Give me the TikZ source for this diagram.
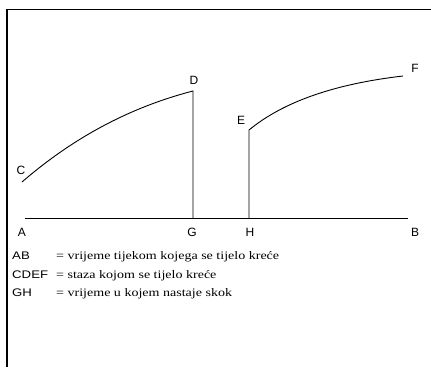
\documentclass[tikz,border=0pt]{standalone}
\usepackage{fontspec}
\setmainfont{Liberation Serif}[FakeStretch=1.22]
\newfontfamily\labelfont{Liberation Sans}
\newfontfamily\keyfont{Liberation Sans}[FakeStretch=1.2]
\begin{document}
\begin{tikzpicture}[x=1pt, y=-1pt,
    pt/.style={font=\labelfont\fontsize{12}{12}\selectfont, inner sep=0pt},
    legkey/.style={font=\keyfont\fontsize{11}{11}\selectfont, anchor=base west, inner sep=0pt},
    legtxt/.style={font=\fontsize{11.5}{11.5}\selectfont, anchor=base west, inner sep=0pt}]
    \useasboundingbox (0,0) rectangle (431,367);

    % okvir
    \draw[line width=1.6pt] (7,367) -- (7,9.5) -- (431,9.5);

    % tocke
    \coordinate (A) at (25,218);
    \coordinate (B) at (408,218);
    \coordinate (C) at (22,182);
    \coordinate (D) at (193,91);
    \coordinate (E) at (249,130);
    \coordinate (F) at (403,76);
    \coordinate (G) at (193,218);
    \coordinate (H) at (249,218);

    % os vremena i staza
    \draw[line width=0.9pt] (A) -- (B);
    \draw[line width=0.9pt] (C) .. controls (74,137) and (131,107) .. (D) -- (G);
    \draw[line width=0.9pt] (H) -- (E) .. controls (283,102) and (334,84) .. (F);

    % oznake
    \node[pt] (lA) at (22,232) {A};
    \node[pt] (lB) at (415,232) {B};
    \node[pt] (lC) at (21,170) {C};
    \node[pt] (lD) at (194,80) {D};
    \node[pt] (lE) at (241,120) {E};
    \node[pt] (lF) at (415,68) {F};
    \node[pt] (lG) at (192,232) {G};
    \node[pt] (lH) at (250,232) {H};

    % legenda
    \node[legkey] (kAB) at (12,259) {AB};
    \node[legtxt] (tAB) at (56,259) {= vrijeme tijekom kojega se tijelo kreće};
    \node[legkey] (kCDEF) at (12,278) {CDEF};
    \node[legtxt] (tCDEF) at (56,278) {= staza kojom se tijelo kreće};
    \node[legkey] (kGH) at (12,296) {GH};
    \node[legtxt] (tGH) at (56,296) {= vrijeme u kojem nastaje skok};
\end{tikzpicture}
\end{document}
